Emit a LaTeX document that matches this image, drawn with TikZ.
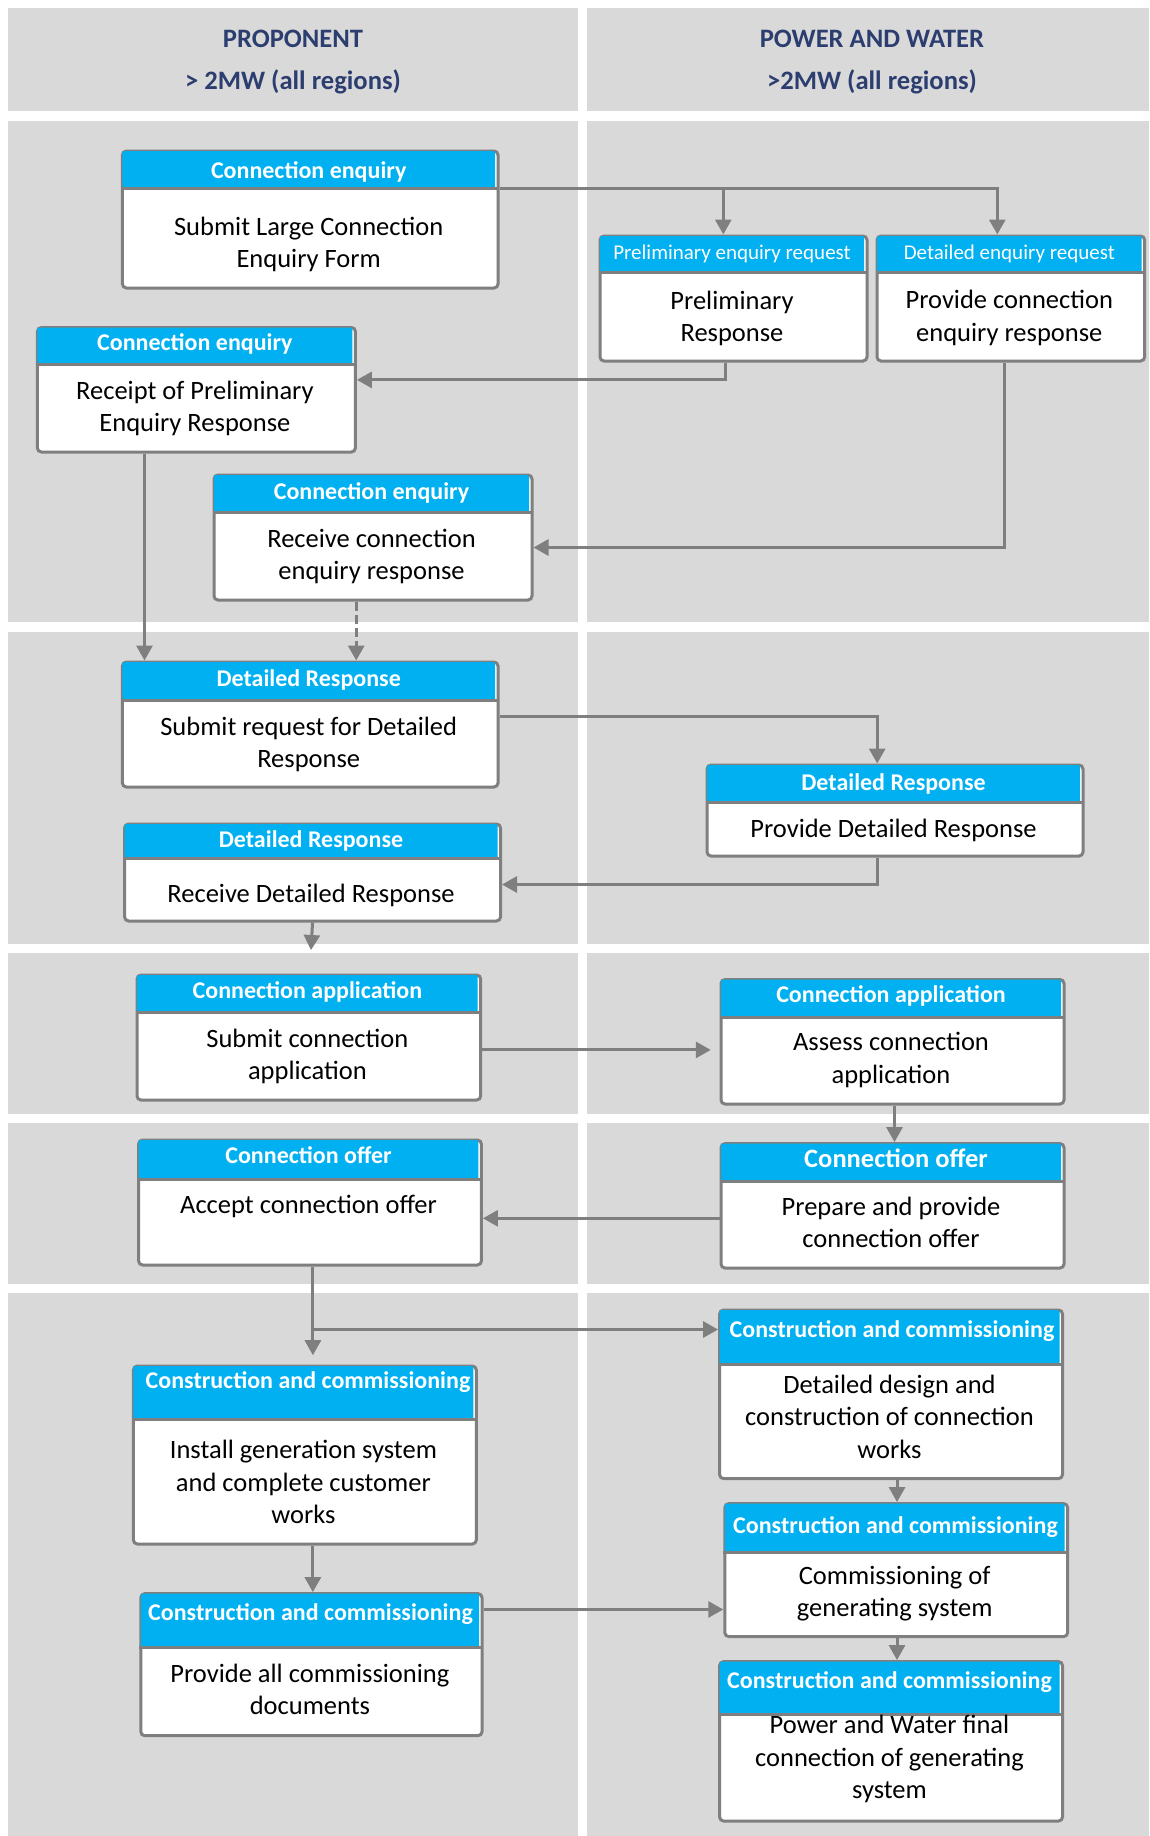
\documentclass[tikz,border=0pt]{standalone}
\usepackage{fontspec}
\setmainfont{Carlito}
\usetikzlibrary{arrows.meta}
\definecolor{panelgray}{HTML}{D9D9D9}
\definecolor{cyanb}{HTML}{00B0F0}
\definecolor{lgray}{HTML}{7F7F7F}
\definecolor{navy}{RGB}{44,62,112}
\tikzset{
  panel/.style={fill=panelgray},
  pbox/.style={draw=lgray, line width=3pt, fill=white, rounded corners=4pt, inner sep=0pt},
  hfill/.style={fill=cyanb, inner sep=0pt, outer sep=0pt, rounded corners=1.5pt},
  divline/.style={draw=lgray, line width=3pt},
  htxt/.style={text=white, font=\bfseries\fontsize{24}{29}\selectfont, inner sep=0pt, yshift=-2.5pt, execute at begin node=\strut},
  hbig/.style={text=white, font=\bfseries\fontsize{26.5}{32}\selectfont, inner sep=0pt, yshift=-2.5pt, execute at begin node=\strut},
  hsmall/.style={text=white, font=\fontsize{21}{25}\selectfont, inner sep=0pt, yshift=-2pt, execute at begin node=\strut},
  btxt/.style={text=black, font=\fontsize{26.5}{32.6}\selectfont, align=center, inner sep=0pt, yshift=-4.5pt, execute at begin node=\strut, execute at end node=\strut},
  btxtone/.style={btxt, yshift=2pt},
  title/.style={text=navy, font=\bfseries\fontsize{26.6}{32}\selectfont, inner sep=0pt, yshift=-2.5pt, execute at begin node=\strut},
  arr/.style={draw=lgray, line width=3pt, -{Triangle[length=15pt,width=16pt]}},
}
\newcommand\procbox[6]{%
  \node[pbox, minimum width={#4-#2-3}, minimum height={#5-#3-3}, anchor=north west] (#1) at ({#2+1.5},{#3+1.5}) {};
  \node[hfill, minimum width={#4-#2-6}, minimum height={#6-#3-3}, anchor=north west] (#1-h) at ({#2+3},{#3+3}) {};
  \draw[divline] ({#2+1.5},#6) -- ({#4-1.5},#6);
}
\begin{document}
\begin{tikzpicture}[x=1pt,y=-1pt]
\useasboundingbox (0,0) rectangle (1149,1836);
\fill[white] (0,0) rectangle (1149,1836);
% panels
\fill[panel] (8,8) rectangle (578,111);
\fill[panel] (587,8) rectangle (1149,111);
\fill[panel] (8,121) rectangle (578,622);
\fill[panel] (587,121) rectangle (1149,622);
\fill[panel] (8,632) rectangle (578,943.5);
\fill[panel] (587,632) rectangle (1149,943.5);
\fill[panel] (8,953) rectangle (578,1114);
\fill[panel] (587,953) rectangle (1149,1114);
\fill[panel] (8,1123) rectangle (578,1284);
\fill[panel] (587,1123) rectangle (1149,1284);
\fill[panel] (8,1293) rectangle (578,1836);
\fill[panel] (587,1293) rectangle (1149,1836);
% titles
\node[title] (t1) at (293,39) {PROPONENT};
\node[title] (t2) at (293,80.5) {> 2MW (all regions)};
\node[title] (t3) at (872,39) {POWER AND WATER};
\node[title] (t4) at (872,80.5) {>2MW (all regions)};
% boxes
\procbox{A}{119.4}{148}{498}{288}{188}
\node[htxt] (A-ht) at (308.7,170) {Connection enquiry};
\node[btxt] (A-t) at (308.7,242.5) {Submit Large Connection\\Enquiry Form};

\procbox{B}{597}{233}{867}{361}{272.6}
\node[hsmall] (B-ht) at (732,252.5) {Preliminary enquiry request};
\node[btxt] (B-t) at (732,316.5) {Preliminary\\Response};

\procbox{C}{874}{233}{1144.6}{361}{272.6}
\node[hsmall] (C-ht) at (1009.3,252.5) {Detailed enquiry request};
\node[btxt] (C-t) at (1009.3,316) {Provide connection\\enquiry response};

\procbox{D}{34.4}{324.5}{355.4}{452}{364.5}
\node[htxt] (D-ht) at (194.9,342.5) {Connection enquiry};
\node[btxt] (D-t) at (194.9,406.5) {Receipt of Preliminary\\Enquiry Response};

\procbox{E}{211}{472}{532}{600}{512}
\node[htxt] (E-ht) at (371.5,491) {Connection enquiry};
\node[btxt] (E-t) at (371.5,554.8) {Receive connection\\enquiry response};

\procbox{F}{119.4}{659}{498}{787}{700}
\node[htxt] (F-ht) at (308.7,678.5) {Detailed Response};
\node[btxt] (F-t) at (308.7,742.6) {Submit request for Detailed\\Response};

\procbox{G}{704}{762}{1083}{856}{802}
\node[htxt] (G-ht) at (893.5,782.4) {Detailed Response};
\node[btxtone] (G-t) at (893.5,828.3) {Provide Detailed Response};

\procbox{H}{121.6}{821}{500.5}{921}{858.6}
\node[htxt] (H-ht) at (311,839) {Detailed Response};
\node[btxtone] (H-t) at (311,893.8) {Receive Detailed Response};

\procbox{I}{134}{972}{480.7}{1100}{1012.7}
\node[htxt] (I-ht) at (307.4,990) {Connection application};
\node[btxt] (I-t) at (307.4,1054.8) {Submit connection\\application};

\procbox{J}{718}{976.5}{1064}{1104}{1017}
\node[htxt] (J-ht) at (891,994) {Connection application};
\node[btxt] (J-t) at (891,1058.3) {Assess connection\\application};

\procbox{K}{718}{1140.6}{1064}{1268}{1181}
\node[hbig] (K-ht) at (896,1159) {Connection offer};
\node[btxt] (K-t) at (891,1222.8) {Prepare and provide\\connection offer};

\procbox{L}{135.6}{1137}{481.4}{1265}{1179.8}
\node[htxt] (L-ht) at (308.5,1155.5) {Connection offer};
\node[btxtone] (L-t) at (308.5,1204.2) {Accept connection offer};

\procbox{M}{130.4}{1363}{476.3}{1544}{1419}
\node[htxt] (M-ht) at (308,1380.5) {Construction and commissioning};
\node[btxt] (M-t) at (303.4,1482.5) {Install generation system\\and complete customer\\works};

\procbox{N}{716.6}{1307}{1062.5}{1478.6}{1364}
\node[htxt] (N-ht) at (892,1328.8) {Construction and commissioning};
\node[btxt] (N-t) at (889.5,1416.9) {Detailed design and\\construction of connection\\works};

\procbox{O}{137.8}{1590.6}{482}{1735.7}{1647.6}
\node[htxt] (O-ht) at (310.5,1612) {Construction and commissioning};
\node[btxt] (O-t) at (309.9,1689.6) {Provide all commissioning\\documents};

\procbox{P}{721.8}{1500.6}{1067.6}{1636.6}{1552.8}
\node[htxt] (P-ht) at (895.5,1525.5) {Construction and commissioning};
\node[btxt] (P-t) at (894.7,1591.8) {Commissioning of\\generating system};

\procbox{Q}{716.6}{1658.6}{1062.5}{1821}{1714.8}
\node[htxt] (Q-ht) at (889.5,1680) {Construction and commissioning};
\node[btxt] (Q-t) at (889.5,1757.5) {Power and Water final\\connection of generating\\system};

% connectors
\draw[arr] (A.east |- A-h.south) -| ([xshift=-13.5pt]C.north);
\draw[arr] (A.east |- A-h.south) -| ([xshift=-10.2pt]B.north);
\draw[arr] ([xshift=-8pt]B.south) |- ([yshift=9.85pt]D.east);
\draw[arr] ([xshift=-6.3pt]C.south) |- ([yshift=-10pt]E.east);
\draw[arr] ([xshift=-51.9pt]D.south) -- ([xshift=-51.9pt]D.south |- F.north);
\draw[arr, dash pattern=on 9pt off 4pt] ([xshift=-16.8pt]E.south) -- ([xshift=-16.8pt]E.south |- F.north);
\draw[arr] ([yshift=8.3pt]F.east) -| ([xshift=-17.8pt]G.north);
\draw[arr] ([xshift=-17.8pt]G.south) |- ([yshift=-12pt]H.east);
\coordinate (Hend) at (311,950);
\draw[arr] (H.south) -- (Hend);
\draw[arr, shorten >=8.7pt] ([yshift=-12.4pt]I.east) -- ([yshift=-12.4pt]I.east -| J.west);
\draw[arr] ([xshift=2pt]J.south) -- ([xshift=2pt]J.south |- K.north);
\draw[arr] ([yshift=-12.5pt]K.west) -- ([yshift=-12.5pt]K.west -| L.east);
\draw[arr, shorten >=9.3pt] ([xshift=2.9pt]L.south) -- ([xshift=2.9pt]L.south |- M.north);
\draw[arr] ([xshift=2.9pt]L.south) |- ([yshift=64.8pt]N.west);
\draw[arr] ([xshift=8pt]M.south) -- ([xshift=8pt]M.south |- O.north);
\draw[arr] ([yshift=55.2pt]O.east) -- ([yshift=55.2pt]O.east -| P.west);
\draw[arr] ([xshift=6pt]N.south) -- ([xshift=6pt]N.south |- P.north);
\draw[arr] ([xshift=0.8pt]P.south) -- ([xshift=0.8pt]P.south |- Q.north);
\end{tikzpicture}
\end{document}
